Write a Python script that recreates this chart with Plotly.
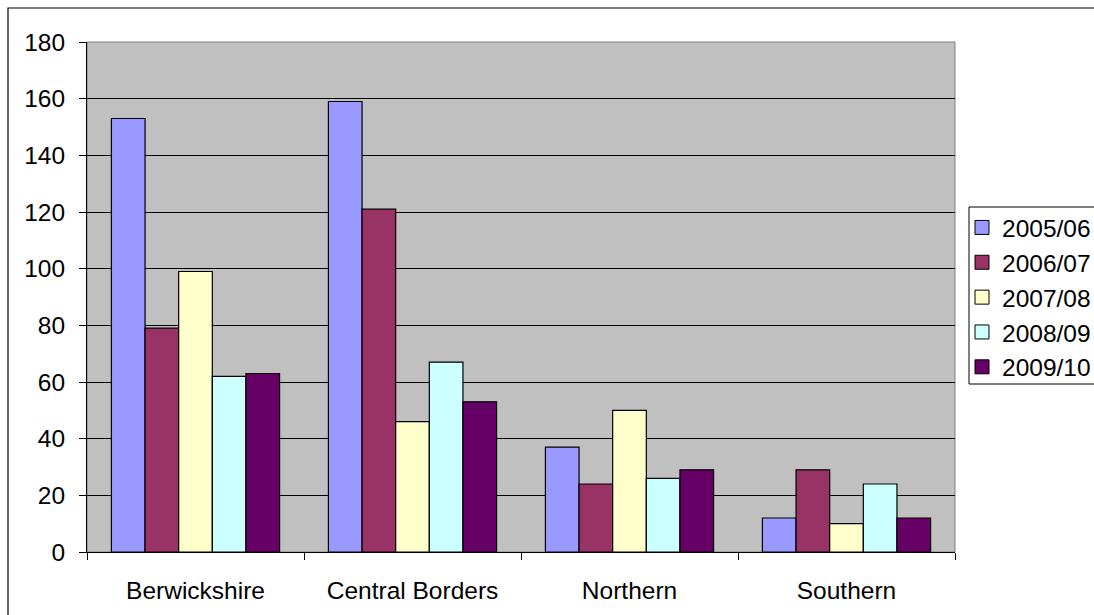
import plotly.graph_objects as go

categories = ["Berwickshire", "Central Borders", "Northern", "Southern"]
series_names = ["2005/06", "2006/07", "2007/08", "2008/09", "2009/10"]
v_2005_06 = [153, 159, 37, 12]
v_2006_07 = [79, 121, 24, 29]
v_2007_08 = [99, 46, 50, 10]
v_2008_09 = [62, 67, 26, 24]
v_2009_10 = [63, 53, 29, 12]
colors = ["#9999FF", "#993366", "#FFFFCC", "#CCFFFF", "#660066"]
y_ticks = [0, 20, 40, 60, 80, 100, 120, 140, 160, 180]

all_values = [v_2005_06, v_2006_07, v_2007_08, v_2008_09, v_2009_10]

FS = 24.5

fig = go.Figure()
for name, vals, col in zip(series_names, all_values, colors):
    fig.add_trace(go.Bar(
        x=categories, y=vals, name=name, legendgroup=name, showlegend=False,
        marker=dict(color=col, line=dict(color="#000000", width=1.2)),
    ))
# legend entries (square swatches like the original)
for name, col in zip(series_names, colors):
    fig.add_trace(go.Scatter(
        x=[None], y=[None], mode="markers", name=name, legendgroup=name,
        marker=dict(symbol="square", size=14, color=col,
                    line=dict(color="#000000", width=1)),
        hoverinfo="skip",
    ))

W, H = 1094, 615
L, R, T, B = 87, 955, 42, 552
pw, ph = R - L, B - T

fig.update_layout(
    width=W, height=H,
    margin=dict(l=L, r=W - R, t=T, b=H - B, pad=0, autoexpand=False),
    paper_bgcolor="white",
    plot_bgcolor="#C0C0C0",
    barmode="group",
    bargap=0.225,
    bargroupgap=0,
    font=dict(family="Liberation Sans, Arial, sans-serif", size=FS, color="#000000"),
    showlegend=True,
    legend=dict(
        xref="container", yref="container",
        x=962 / W, xanchor="left",
        y=1 - 205 / H, yanchor="top",
        borderwidth=0,
        bgcolor="rgba(0,0,0,0)",
        font=dict(size=FS),
        tracegroupgap=0,
        itemclick=False,
    ),
    xaxis=dict(
        type="category",
        showline=True, linecolor="#000000", linewidth=1,
        ticks="outside", tickson="boundaries", ticklen=7, tickcolor="#000000",
        showgrid=False, zeroline=False,
        tickfont=dict(size=FS),
        ticklabelstandoff=17,
    ),
    yaxis=dict(
        range=[0, 180],
        tickvals=y_ticks,
        showline=True, linecolor="#000000", linewidth=1,
        ticks="outside", ticklen=7, tickcolor="#000000",
        showgrid=True, gridcolor="#000000", gridwidth=1,
        zeroline=False,
        tickfont=dict(size=FS),
        ticklabelstandoff=9,
    ),
    shapes=[
        # plot area border (gray)
        dict(type="rect", xref="paper", yref="paper", x0=0, y0=0, x1=1, y1=1,
             line=dict(color="#808080", width=1), layer="below"),
        # legend box
        dict(type="rect", xref="paper", yref="paper",
             x0=(969 - L) / pw, x1=(1110 - L) / pw,
             y0=1 - (384 - T) / ph, y1=1 - (207 - T) / ph,
             line=dict(color="#000000", width=1), fillcolor="white", layer="below"),
        # outer chart border
        dict(type="rect", xref="paper", yref="paper",
             x0=(8 - L) / pw, y0=-0.3, x1=1.3, y1=1 + (T - 8) / ph,
             line=dict(color="#000000", width=1.2)),
    ],
)

fig.write_html("out.html")
